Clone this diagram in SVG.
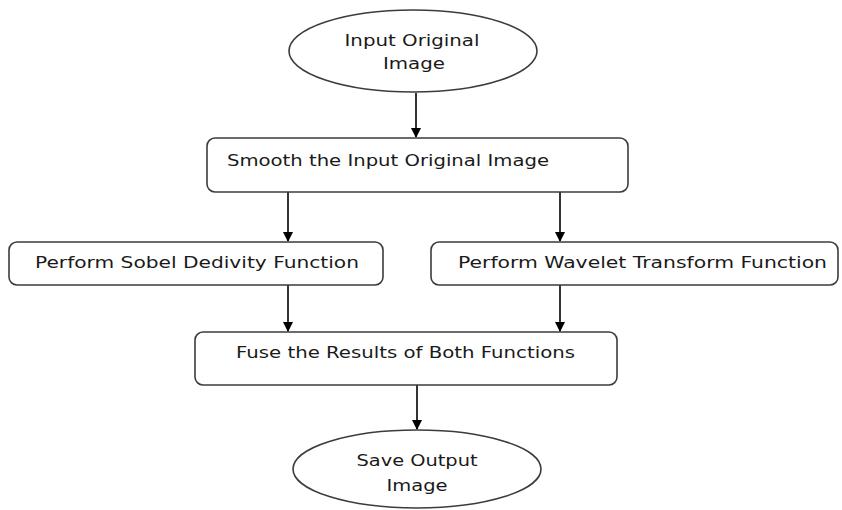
<svg xmlns="http://www.w3.org/2000/svg" width="842" height="510" viewBox="0 0 842 510">
<style>
.n{fill:#fff;stroke:#3c3c3c;stroke-width:1.6}
.t{font-family:"DejaVu Sans","Open Sans",sans-serif;font-size:16px;fill:#1a1a1a}
.c{stroke:#000;stroke-width:1.6;fill:none;marker-end:url(#ah)}
</style>
<defs>
<marker id="ah" markerWidth="10" markerHeight="10" refX="9" refY="5" orient="auto" markerUnits="userSpaceOnUse">
<path d="M0,0 L10,5 L0,10 Z" fill="#000"/>
</marker>
</defs>
<rect width="842" height="510" fill="#fff"/>
<g id="connectors">
<line class="c" x1="416" y1="93" x2="416" y2="137"/>
<line class="c" x1="288" y1="192" x2="288" y2="241"/>
<line class="c" x1="560" y1="192" x2="560" y2="241"/>
<line class="c" x1="288" y1="285" x2="288" y2="331"/>
<line class="c" x1="560" y1="285" x2="560" y2="331"/>
<line class="c" x1="417" y1="385" x2="417" y2="429"/>
</g>
<g id="input">
<ellipse class="n" cx="413" cy="51" rx="124" ry="41"/>
<text class="t" x="412" y="46" text-anchor="middle" textLength="135" lengthAdjust="spacingAndGlyphs">Input Original</text>
<text class="t" x="414" y="69" text-anchor="middle" textLength="62" lengthAdjust="spacingAndGlyphs">Image</text>
</g>
<g id="smooth">
<rect class="n" x="207" y="138" width="421" height="54" rx="8"/>
<text class="t" x="227" y="166" textLength="322" lengthAdjust="spacingAndGlyphs">Smooth the Input Original Image</text>
</g>
<g id="sobel">
<rect class="n" x="9" y="242" width="374" height="43" rx="8"/>
<text class="t" x="35" y="268" textLength="324" lengthAdjust="spacingAndGlyphs">Perform Sobel Dedivity Function</text>
</g>
<g id="wavelet">
<rect class="n" x="431" y="242" width="407" height="43" rx="8"/>
<text class="t" x="458" y="268" textLength="369" lengthAdjust="spacingAndGlyphs">Perform Wavelet Transform Function</text>
</g>
<g id="fuse">
<rect class="n" x="195" y="332" width="422" height="53" rx="8"/>
<text class="t" x="236" y="358" textLength="339" lengthAdjust="spacingAndGlyphs">Fuse the Results of Both Functions</text>
</g>
<g id="save">
<ellipse class="n" cx="417" cy="469" rx="124" ry="39"/>
<text class="t" x="417" y="466" text-anchor="middle" textLength="121" lengthAdjust="spacingAndGlyphs">Save Output</text>
<text class="t" x="417" y="491" text-anchor="middle" textLength="61" lengthAdjust="spacingAndGlyphs">Image</text>
</g>
</svg>
